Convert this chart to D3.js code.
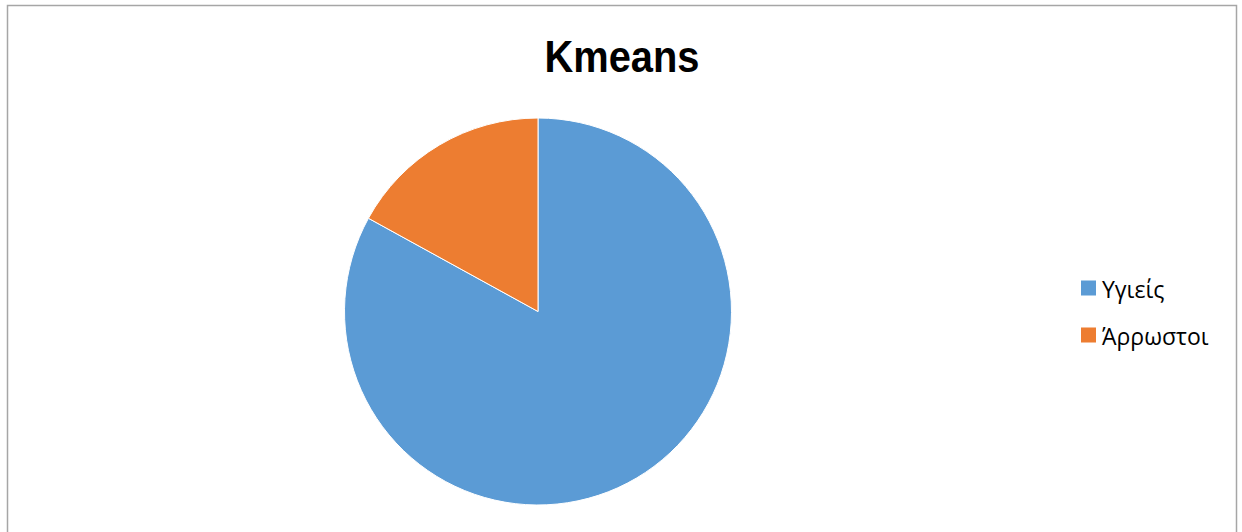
<!DOCTYPE html>
<html><head><meta charset="utf-8">
<script src="https://cdn.jsdelivr.net/npm/d3@7"></script>
<style>html,body{margin:0;padding:0;background:#fff;overflow:hidden}</style>
</head><body>
<script>
const categories = ["Υγιείς", "Άρρωστοι"];
const values = [83, 17];
const colors = ["#5B9BD5", "#ED7D31"];
const title = "Kmeans";

const W = 1242, H = 532;
const svg = d3.select("body").append("svg").attr("width", W).attr("height", H);

svg.append("rect").attr("x", 7.5).attr("y", 5.5).attr("width", 1229).attr("height", 540)
  .attr("fill", "#fff").attr("stroke", "#a6a6a6").attr("stroke-width", 1.5);

svg.append("text").attr("x", 622).attr("y", 72).attr("text-anchor", "middle")
  .attr("font-family", "'Liberation Sans', Arial, sans-serif").attr("font-weight", "bold")
  .attr("font-size", 44).attr("textLength", 155).attr("lengthAdjust", "spacingAndGlyphs")
  .attr("fill", "#000").text(title);

const data = categories.map((c, i) => ({ c, v: values[i], col: colors[i] }));
const pie = d3.pie().value(d => d.v).sort(null);
const arc = d3.arc().innerRadius(0).outerRadius(193.5);
const g = svg.append("g").attr("transform", "translate(538,311.5)");
g.selectAll("path").data(pie(data)).join("path")
  .attr("d", arc).attr("fill", d => d.data.col)
  .attr("stroke", "#fff").attr("stroke-width", 1);

const color = d3.scaleOrdinal().domain(categories).range(colors);
const y = d3.scalePoint().domain(categories).range([288, 335]);
const lg = svg.append("g");
const items = lg.selectAll("g").data(categories).join("g")
  .attr("transform", d => `translate(1081,${y(d)})`);
items.append("rect").attr("x", 0).attr("y", -7.5).attr("width", 15).attr("height", 15)
  .attr("fill", d => color(d));
items.append("text").attr("x", 21).attr("y", 10)
  .attr("font-family", "'Open Sans', sans-serif").attr("font-size", 23)
  .attr("fill", "#000").text(d => d);
</script>
</body></html>
